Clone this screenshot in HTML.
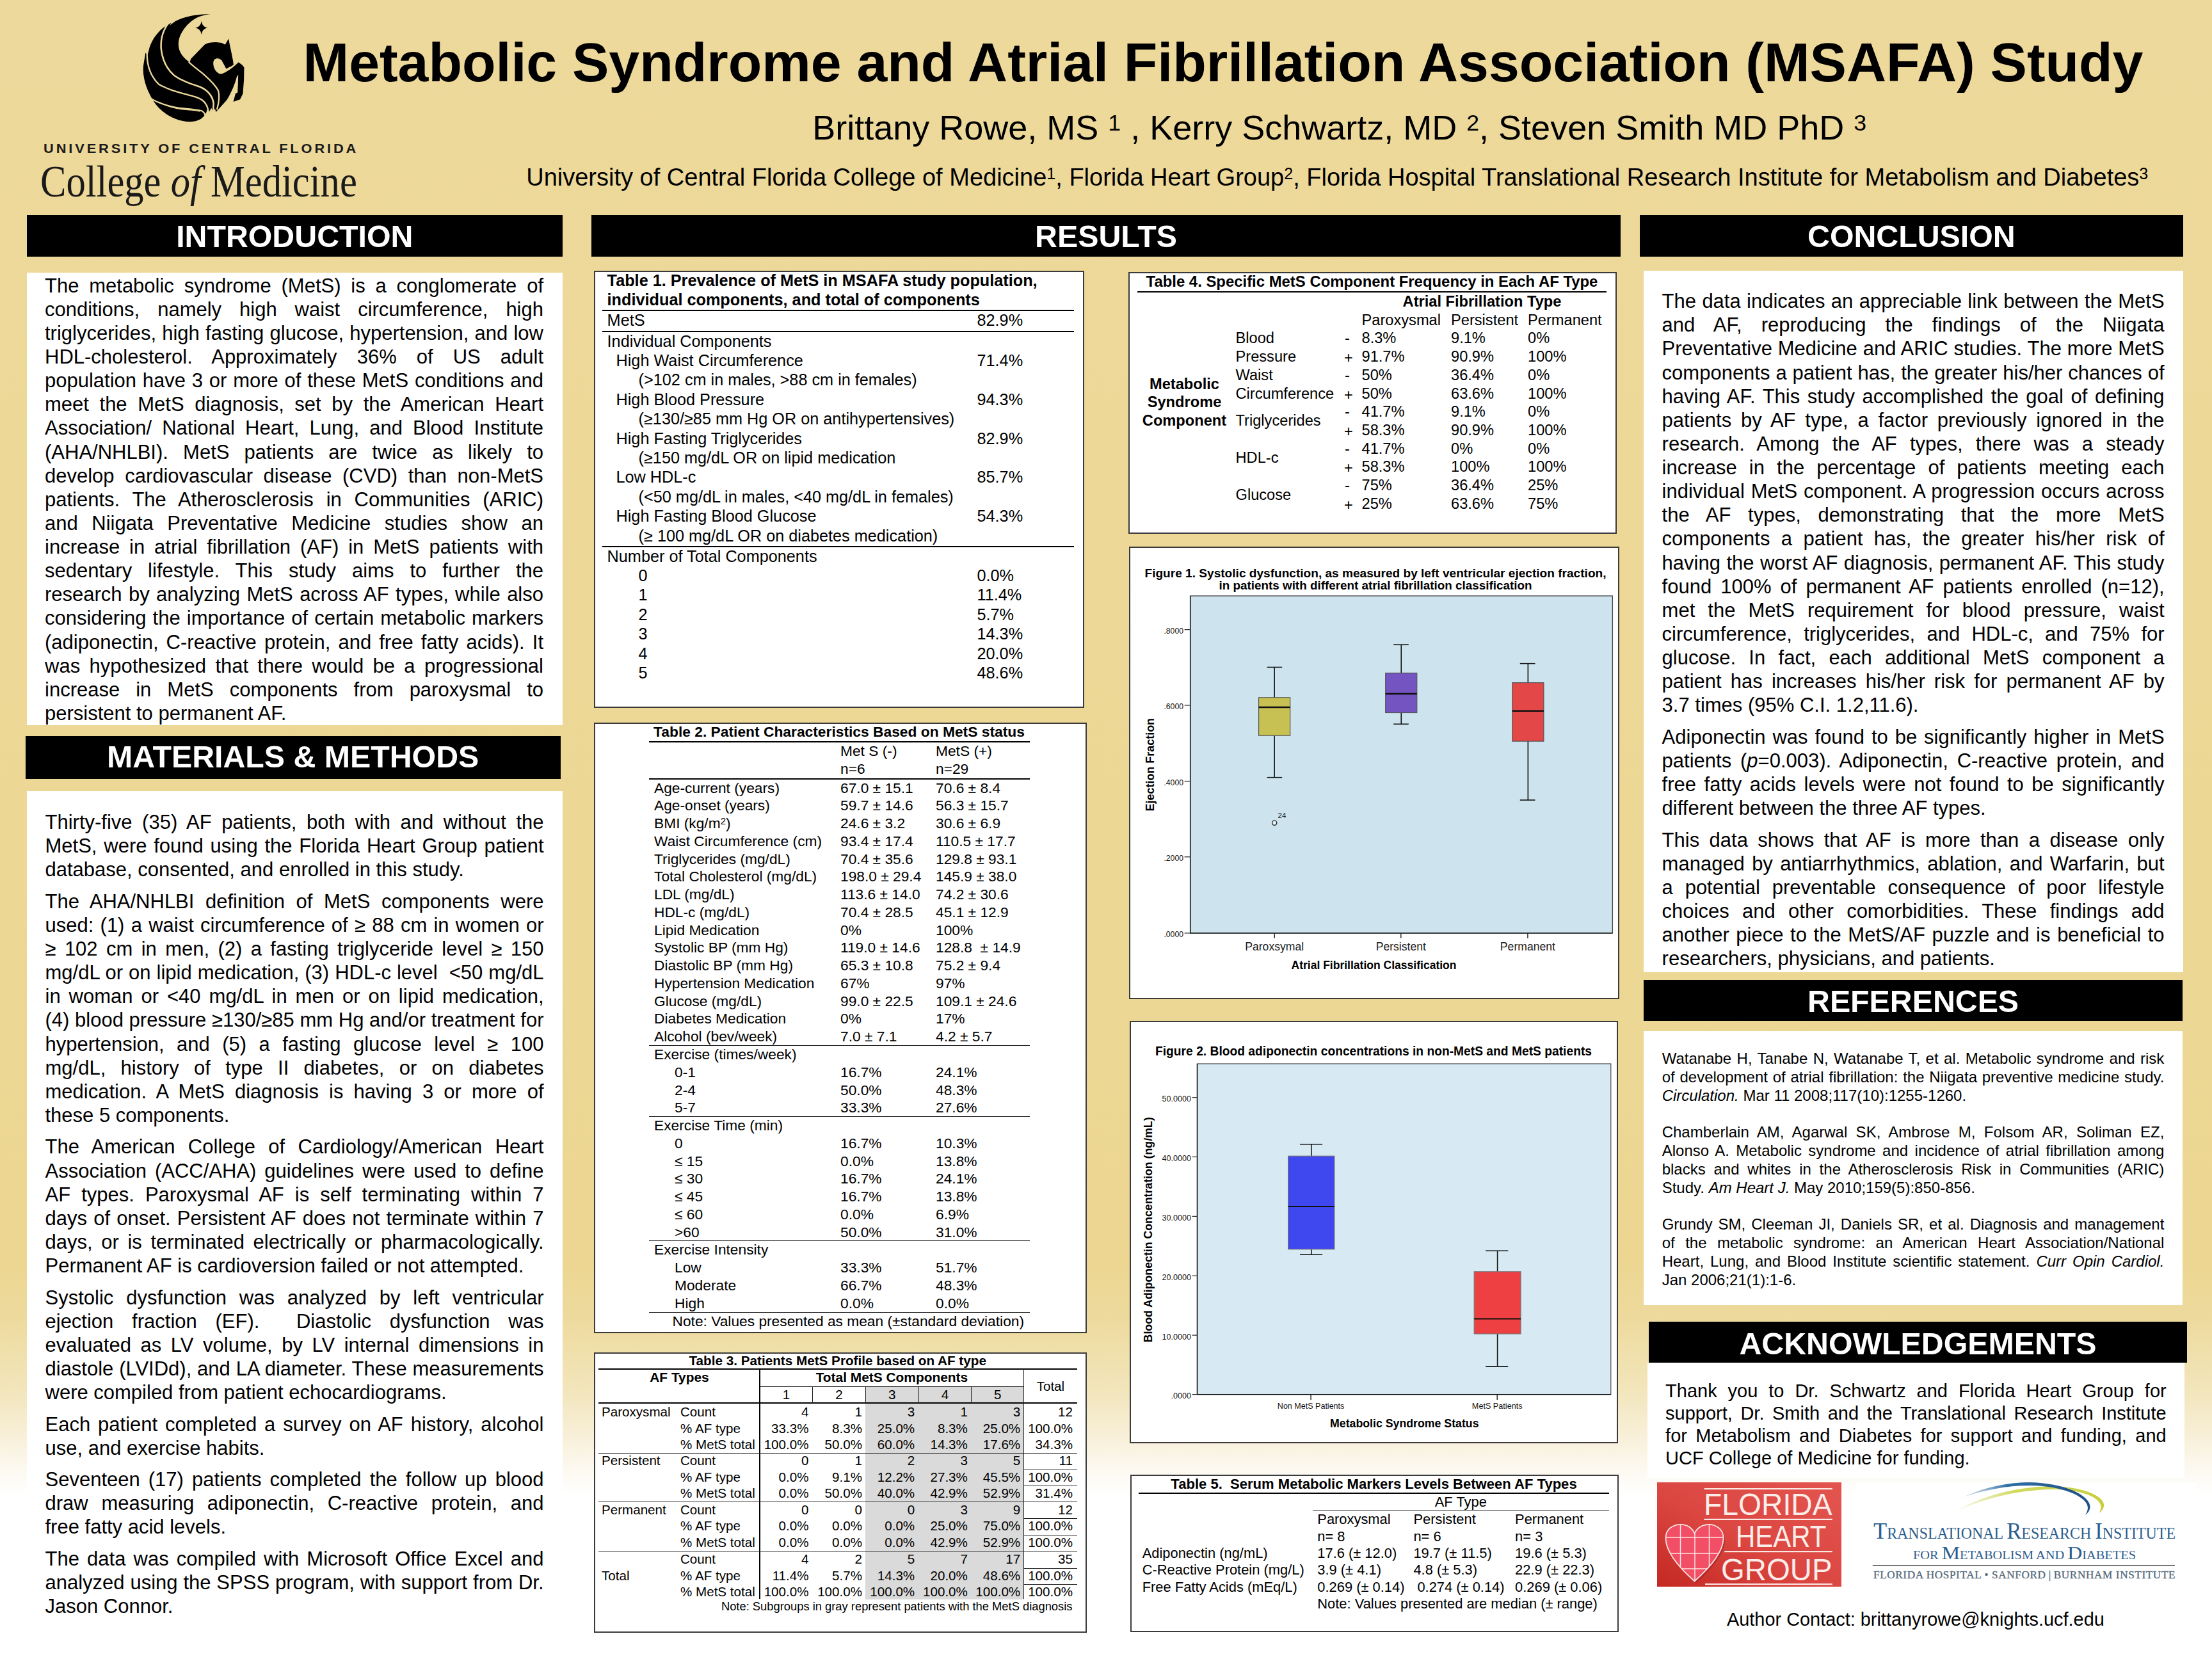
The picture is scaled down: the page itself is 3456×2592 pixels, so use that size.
<!DOCTYPE html>
<html lang="en"><head><meta charset="utf-8">
<title>Metabolic Syndrome and Atrial Fibrillation Association (MSAFA) Study</title>
<style>
html,body{margin:0;padding:0;background:#fff}
#p{position:relative;width:3456px;height:2592px;overflow:hidden;
background:linear-gradient(to bottom,#EDD99B 0%,#ECD692 76.3%,#EDDA9D 79.5%,#F2E5BA 83.6%,#F8F0DA 86.7%,#FCF8EE 88.4%,#FFFFFF 90.1%,#FFFFFF 100%);
font-family:"Liberation Sans",sans-serif;color:#000}
#p>div,#p>svg{position:absolute}
#p>div{line-height:1;white-space:nowrap}
.b{font-weight:bold}
.j{text-align:justify;text-align-last:justify}
.w{color:#fff}
.s{font-family:"Liberation Serif",serif}
sup{font-size:66%;vertical-align:baseline;position:relative;top:-0.40em;line-height:0}
i{font-style:italic}
</style></head><body><div id="p">
<div style="left:42px;top:336px;width:836.5px;height:65.4px;background:#000"></div>
<div class="b w" style="left:-139.75px;top:345px;font-size:48.3px;width:1200px;text-align:center;">INTRODUCTION</div>
<div style="left:924px;top:336px;width:1608px;height:65.4px;background:#000"></div>
<div class="b w" style="left:1128px;top:345px;font-size:48.3px;width:1200px;text-align:center;">RESULTS</div>
<div style="left:2562px;top:336px;width:848.7px;height:65.4px;background:#000"></div>
<div class="b w" style="left:2386.35px;top:345px;font-size:48.3px;width:1200px;text-align:center;">CONCLUSION</div>
<div style="left:39.5px;top:1150.2px;width:836.2px;height:66.8px;background:#000"></div>
<div class="b w" style="left:-142.4px;top:1158px;font-size:48.3px;width:1200px;text-align:center;">MATERIALS &amp; METHODS</div>
<div style="left:2567.7px;top:1530.8px;width:842.7px;height:64.6px;background:#000"></div>
<div class="b w" style="left:2389.05px;top:1540px;font-size:48.3px;width:1200px;text-align:center;">REFERENCES</div>
<div style="left:2576.4px;top:2064.8px;width:840.2px;height:64.6px;background:#000"></div>
<div class="b w" style="left:2396.5px;top:2075px;font-size:48.3px;width:1200px;text-align:center;">ACKNOWLEDGEMENTS</div>
<div style="left:42px;top:426px;width:836.5px;height:707px;background:#fff"></div>
<div style="left:42px;top:1235.5px;width:836.5px;height:1330px;background:#fff"></div>
<div style="left:2568px;top:422.5px;width:842.7px;height:1096px;background:#fff"></div>
<div style="left:2567.7px;top:1610.5px;width:842.7px;height:428.5px;background:#fff"></div>
<div style="left:2574px;top:2129.4px;width:839px;height:180.6px;background:#fff"></div>
<div style="left:927.5px;top:423px;width:766.5px;height:682.5px;background:#fff;box-sizing:border-box;border:2px solid #3a3a3a"></div>
<div style="left:927.5px;top:1128.5px;width:770.5px;height:954.5px;background:#fff;box-sizing:border-box;border:2px solid #3a3a3a"></div>
<div style="left:927.5px;top:2112.5px;width:770.5px;height:438px;background:#fff;box-sizing:border-box;border:2px solid #3a3a3a"></div>
<div style="left:1763px;top:425px;width:763px;height:409px;background:#fff;box-sizing:border-box;border:2px solid #3a3a3a"></div>
<div style="left:1763.5px;top:853.8px;width:766.3px;height:707.7px;background:#fff;box-sizing:border-box;border:2px solid #3a3a3a"></div>
<div style="left:1764.8px;top:1594.8px;width:763.7px;height:660px;background:#fff;box-sizing:border-box;border:2px solid #3a3a3a"></div>
<div style="left:1765.8px;top:2304.3px;width:762.9px;height:245.4px;background:#fff;box-sizing:border-box;border:2px solid #3a3a3a"></div>
<div class="b" style="left:473.5px;top:54px;font-size:86px;">Metabolic Syndrome and Atrial Fibrillation Association (MSAFA) Study</div>
<div style="left:1269.2px;top:172px;font-size:54px;">Brittany Rowe, MS <sup>1</sup> , Kerry Schwartz, MD <sup>2</sup>, Steven Smith MD PhD <sup>3</sup></div>
<div style="left:822.2px;top:258px;font-size:38px;">University of Central Florida College of Medicine<sup>1</sup>, Florida Heart Group<sup>2</sup>, Florida Hospital Translational Research Institute for Metabolism and Diabetes<sup>3</sup></div>
<div class="b" style="left:67.5px;top:223px;font-size:19.5px;letter-spacing:3.45px;color:#1a1a1a;transform:scaleX(1.12);transform-origin:0 0">UNIVERSITY OF CENTRAL FLORIDA</div>
<div class="s" style="left:63px;top:249px;font-size:69.5px;color:#1a1a1a;transform:scaleX(0.872);transform-origin:0 0">College <i>of</i> Medicine</div>
<svg style="left:210px;top:10px" width="190" height="190" viewBox="0 0 1659 1659">
<path fill="#000" d="M1035,108 C880,118 770,190 690,290 C620,380 590,470 605,560 C620,640 680,715 755,760
L770,715 L960,520 C1010,495 1060,488 1120,490 L1190,498 L1238,522 L1284,440 L1300,520 L1325,640 L1345,740 L1352,795 L1330,812 L1252,852
L1225,800 L1190,735 C1160,705 1120,700 1092,725 C1070,750 1072,800 1090,845 C1110,890 1150,925 1185,922 C1230,912 1290,870 1345,830
L1395,785 L1420,762 L1470,800 L1497,832 L1494,1000 L1480,1190 L1442,1268 L1350,1302 L1378,1192 L1408,1172 L1416,935
L1396,965 C1370,1060 1330,1160 1262,1275 L1150,1400 L1112,1440 L1100,1395 L1068,1432 L1050,1385 L1012,1452 L995,1400
C985,1450 960,1490 935,1510 C900,1548 840,1570 760,1574 C580,1572 400,1480 280,1320 C170,1160 100,960 125,790
L152,634 L180,660 L197,598 C215,500 290,370 400,285 L505,222 L478,262 L560,200 C700,130 880,100 1035,108 Z"/>
<g fill="none" stroke="#EDD99B" stroke-linecap="round">
<path stroke-width="20" d="M172,640 C170,800 220,950 330,1060 C480,1150 640,1180 800,1225 C900,1250 970,1290 1000,1390 L1010,1440"/>
<path stroke-width="22" d="M455,240 C390,330 355,450 365,580 C380,720 440,850 540,940 C650,1020 780,1060 900,1100 C990,1140 1060,1200 1080,1320 L1075,1420"/>
<path stroke-width="20" d="M745,760 C800,820 880,870 950,930 C1040,1010 1110,1080 1145,1150 C1165,1230 1150,1320 1128,1400"/>
<path stroke-width="18" d="M235,1262 C330,1320 460,1360 600,1385 C720,1398 840,1400 920,1425 C950,1445 960,1465 962,1480"/>
<path stroke-width="13" d="M330,1305 C420,1350 520,1385 640,1402 C740,1412 830,1414 890,1430"/>
</g>
<path fill="#EDD99B" d="M1416,935 L1402,1172 L1390,1180 L1396,965 Z"/>
<path fill="#000" d="M915,198 C925,255 945,280 1000,292 C945,304 925,330 915,385 C905,330 885,304 828,292 C885,280 905,255 915,198 Z"/>
</svg>
<div class="j" style="left:70px;top:431px;font-size:31px;width:779px;">The metabolic syndrome (MetS) is a conglomerate of</div>
<div class="j" style="left:70px;top:468px;font-size:31px;width:779px;">conditions, namely high waist circumference, high</div>
<div class="j" style="left:70px;top:505px;font-size:31px;width:779px;">triglycerides, high fasting glucose, hypertension, and low</div>
<div class="j" style="left:70px;top:542px;font-size:31px;width:779px;">HDL-cholesterol. Approximately 36% of US adult</div>
<div class="j" style="left:70px;top:579px;font-size:31px;width:779px;">population have 3 or more of these MetS conditions and</div>
<div class="j" style="left:70px;top:616px;font-size:31px;width:779px;">meet the MetS diagnosis, set by the American Heart</div>
<div class="j" style="left:70px;top:653px;font-size:31px;width:779px;">Association/ National Heart, Lung, and Blood Institute</div>
<div class="j" style="left:70px;top:691px;font-size:31px;width:779px;">(AHA/NHLBI). MetS patients are twice as likely to</div>
<div class="j" style="left:70px;top:728px;font-size:31px;width:779px;">develop cardiovascular disease (CVD) than non-MetS</div>
<div class="j" style="left:70px;top:765px;font-size:31px;width:779px;">patients. The Atherosclerosis in Communities (ARIC)</div>
<div class="j" style="left:70px;top:802px;font-size:31px;width:779px;">and Niigata Preventative Medicine studies show an</div>
<div class="j" style="left:70px;top:839px;font-size:31px;width:779px;">increase in atrial fibrillation (AF) in MetS patients with</div>
<div class="j" style="left:70px;top:876px;font-size:31px;width:779px;">sedentary lifestyle. This study aims to further the</div>
<div class="j" style="left:70px;top:913px;font-size:31px;width:779px;">research by analyzing MetS across AF types, while also</div>
<div class="j" style="left:70px;top:950px;font-size:31px;width:779px;">considering the importance of certain metabolic markers</div>
<div class="j" style="left:70px;top:988px;font-size:31px;width:779px;">(adiponectin, C-reactive protein, and free fatty acids). It</div>
<div class="j" style="left:70px;top:1025px;font-size:31px;width:779px;">was hypothesized that there would be a progressional</div>
<div class="j" style="left:70px;top:1062px;font-size:31px;width:779px;">increase in MetS components from paroxysmal to</div>
<div style="left:70px;top:1099px;font-size:31px;width:779px;">persistent to permanent AF.</div>
<div class="j" style="left:70.5px;top:1269px;font-size:31px;width:779px;">Thirty-five (35) AF patients, both with and without the</div>
<div class="j" style="left:70.5px;top:1306px;font-size:31px;width:779px;">MetS, were found using the Florida Heart Group patient</div>
<div style="left:70.5px;top:1343px;font-size:31px;width:779px;">database, consented, and enrolled in this study.</div>
<div class="j" style="left:70.5px;top:1393px;font-size:31px;width:779px;">The AHA/NHLBI definition of MetS components were</div>
<div class="j" style="left:70.5px;top:1430px;font-size:31px;width:779px;">used: (1) a waist circumference of &ge; 88 cm in women or</div>
<div class="j" style="left:70.5px;top:1467px;font-size:31px;width:779px;">&ge; 102 cm in men, (2) a fasting triglyceride level &ge; 150</div>
<div class="j" style="left:70.5px;top:1504px;font-size:31px;width:779px;">mg/dL or on lipid medication, (3) HDL-c level &nbsp;&lt;50 mg/dL</div>
<div class="j" style="left:70.5px;top:1541px;font-size:31px;width:779px;">in woman or &lt;40 mg/dL in men or on lipid medication,</div>
<div class="j" style="left:70.5px;top:1578px;font-size:31px;width:779px;">(4) blood pressure &ge;130/&ge;85 mm Hg and/or treatment for</div>
<div class="j" style="left:70.5px;top:1616px;font-size:31px;width:779px;">hypertension, and (5) a fasting glucose level &ge; 100</div>
<div class="j" style="left:70.5px;top:1653px;font-size:31px;width:779px;">mg/dL, history of type II diabetes, or on diabetes</div>
<div class="j" style="left:70.5px;top:1690px;font-size:31px;width:779px;">medication. A MetS diagnosis is having 3 or more of</div>
<div style="left:70.5px;top:1727px;font-size:31px;width:779px;">these 5 components.</div>
<div class="j" style="left:70.5px;top:1776px;font-size:31px;width:779px;">The American College of Cardiology/American Heart</div>
<div class="j" style="left:70.5px;top:1814px;font-size:31px;width:779px;">Association (ACC/AHA) guidelines were used to define</div>
<div class="j" style="left:70.5px;top:1851px;font-size:31px;width:779px;">AF types. Paroxysmal AF is self terminating within 7</div>
<div class="j" style="left:70.5px;top:1888px;font-size:31px;width:779px;">days of onset. Persistent AF does not terminate within 7</div>
<div class="j" style="left:70.5px;top:1925px;font-size:31px;width:779px;">days, or is terminated electrically or pharmacologically.</div>
<div style="left:70.5px;top:1962px;font-size:31px;width:779px;">Permanent AF is cardioversion failed or not attempted.</div>
<div class="j" style="left:70.5px;top:2012px;font-size:31px;width:779px;">Systolic dysfunction was analyzed by left ventricular</div>
<div class="j" style="left:70.5px;top:2049px;font-size:31px;width:779px;">ejection fraction (EF). &nbsp;Diastolic dysfunction was</div>
<div class="j" style="left:70.5px;top:2086px;font-size:31px;width:779px;">evaluated as LV volume, by LV internal dimensions in</div>
<div class="j" style="left:70.5px;top:2123px;font-size:31px;width:779px;">diastole (LVIDd), and LA diameter. These measurements</div>
<div style="left:70.5px;top:2160px;font-size:31px;width:779px;">were compiled from patient echocardiograms.</div>
<div class="j" style="left:70.5px;top:2210px;font-size:31px;width:779px;">Each patient completed a survey on AF history, alcohol</div>
<div style="left:70.5px;top:2247px;font-size:31px;width:779px;">use, and exercise habits.</div>
<div class="j" style="left:70.5px;top:2296px;font-size:31px;width:779px;">Seventeen (17) patients completed the follow up blood</div>
<div class="j" style="left:70.5px;top:2333px;font-size:31px;width:779px;">draw measuring adiponectin, C-reactive protein, and</div>
<div style="left:70.5px;top:2370px;font-size:31px;width:779px;">free fatty acid levels.</div>
<div class="j" style="left:70.5px;top:2420px;font-size:31px;width:779px;">The data was compiled with Microsoft Office Excel and</div>
<div class="j" style="left:70.5px;top:2457px;font-size:31px;width:779px;">analyzed using the SPSS program, with support from Dr.</div>
<div style="left:70.5px;top:2494px;font-size:31px;width:779px;">Jason Connor.</div>
<div class="j" style="left:2596.6px;top:455px;font-size:31px;width:785px;">The data indicates an appreciable link between the MetS</div>
<div class="j" style="left:2596.6px;top:492px;font-size:31px;width:785px;">and AF, reproducing the findings of the Niigata</div>
<div class="j" style="left:2596.6px;top:529px;font-size:31px;width:785px;">Preventative Medicine and ARIC studies. The more MetS</div>
<div class="j" style="left:2596.6px;top:567px;font-size:31px;width:785px;">components a patient has, the greater his/her chances of</div>
<div class="j" style="left:2596.6px;top:604px;font-size:31px;width:785px;">having AF. This study accomplished the goal of defining</div>
<div class="j" style="left:2596.6px;top:641px;font-size:31px;width:785px;">patients by AF type, a factor previously ignored in the</div>
<div class="j" style="left:2596.6px;top:678px;font-size:31px;width:785px;">research. Among the AF types, there was a steady</div>
<div class="j" style="left:2596.6px;top:715px;font-size:31px;width:785px;">increase in the percentage of patients meeting each</div>
<div class="j" style="left:2596.6px;top:752px;font-size:31px;width:785px;">individual MetS component. A progression occurs across</div>
<div class="j" style="left:2596.6px;top:789px;font-size:31px;width:785px;">the AF types, demonstrating that the more MetS</div>
<div class="j" style="left:2596.6px;top:826px;font-size:31px;width:785px;">components a patient has, the greater his/her risk of</div>
<div class="j" style="left:2596.6px;top:864px;font-size:31px;width:785px;">having the worst AF diagnosis, permanent AF. This study</div>
<div class="j" style="left:2596.6px;top:901px;font-size:31px;width:785px;">found 100% of permanent AF patients enrolled (n=12),</div>
<div class="j" style="left:2596.6px;top:938px;font-size:31px;width:785px;">met the MetS requirement for blood pressure, waist</div>
<div class="j" style="left:2596.6px;top:975px;font-size:31px;width:785px;">circumference, triglycerides, and HDL-c, and 75% for</div>
<div class="j" style="left:2596.6px;top:1012px;font-size:31px;width:785px;">glucose. In fact, each additional MetS component a</div>
<div class="j" style="left:2596.6px;top:1049px;font-size:31px;width:785px;">patient has increases his/her risk for permanent AF by</div>
<div style="left:2596.6px;top:1086px;font-size:31px;width:785px;">3.7 times (95% C.I. 1.2,11.6).</div>
<div class="j" style="left:2596.6px;top:1136px;font-size:31px;width:785px;">Adiponectin was found to be significantly higher in MetS</div>
<div class="j" style="left:2596.6px;top:1173px;font-size:31px;width:785px;">patients (<i>p</i>=0.003). Adiponectin, C-reactive protein, and</div>
<div class="j" style="left:2596.6px;top:1210px;font-size:31px;width:785px;">free fatty acids levels were not found to be significantly</div>
<div style="left:2596.6px;top:1247px;font-size:31px;width:785px;">different between the three AF types.</div>
<div class="j" style="left:2596.6px;top:1297px;font-size:31px;width:785px;">This data shows that AF is more than a disease only</div>
<div class="j" style="left:2596.6px;top:1334px;font-size:31px;width:785px;">managed by antiarrhythmics, ablation, and Warfarin, but</div>
<div class="j" style="left:2596.6px;top:1371px;font-size:31px;width:785px;">a potential preventable consequence of poor lifestyle</div>
<div class="j" style="left:2596.6px;top:1408px;font-size:31px;width:785px;">choices and other comorbidities. These findings add</div>
<div class="j" style="left:2596.6px;top:1445px;font-size:31px;width:785px;">another piece to the MetS/AF puzzle and is beneficial to</div>
<div style="left:2596.6px;top:1482px;font-size:31px;width:785px;">researchers, physicians, and patients.</div>
<div class="j" style="left:2596.7px;top:1642px;font-size:24px;width:784.7px;">Watanabe H, Tanabe N, Watanabe T, et al. Metabolic syndrome and risk</div>
<div class="j" style="left:2596.7px;top:1671px;font-size:24px;width:784.7px;">of development of atrial fibrillation: the Niigata preventive medicine study.</div>
<div style="left:2596.7px;top:1700px;font-size:24px;width:784.7px;"><i>Circulation.</i> Mar 11 2008;117(10):1255-1260.</div>
<div class="j" style="left:2596.7px;top:1757px;font-size:24px;width:784.7px;">Chamberlain AM, Agarwal SK, Ambrose M, Folsom AR, Soliman EZ,</div>
<div class="j" style="left:2596.7px;top:1786px;font-size:24px;width:784.7px;">Alonso A. Metabolic syndrome and incidence of atrial fibrillation among</div>
<div class="j" style="left:2596.7px;top:1815px;font-size:24px;width:784.7px;">blacks and whites in the Atherosclerosis Risk in Communities (ARIC)</div>
<div style="left:2596.7px;top:1844px;font-size:24px;width:784.7px;">Study. <i>Am Heart J.</i> May 2010;159(5):850-856.</div>
<div class="j" style="left:2596.7px;top:1901px;font-size:24px;width:784.7px;">Grundy SM, Cleeman JI, Daniels SR, et al. Diagnosis and management</div>
<div class="j" style="left:2596.7px;top:1930px;font-size:24px;width:784.7px;">of the metabolic syndrome: an American Heart Association/National</div>
<div class="j" style="left:2596.7px;top:1959px;font-size:24px;width:784.7px;">Heart, Lung, and Blood Institute scientific statement. <i>Curr Opin Cardiol.</i></div>
<div style="left:2596.7px;top:1988px;font-size:24px;width:784.7px;">Jan 2006;21(1):1-6.</div>
<div class="j" style="left:2602.1px;top:2159px;font-size:29px;width:782.6px;">Thank you to Dr. Schwartz and Florida Heart Group for</div>
<div class="j" style="left:2602.1px;top:2194px;font-size:29px;width:782.6px;">support, Dr. Smith and the Translational Research Institute</div>
<div class="j" style="left:2602.1px;top:2229px;font-size:29px;width:782.6px;">for Metabolism and Diabetes for support and funding, and</div>
<div style="left:2602.1px;top:2264px;font-size:29px;width:782.6px;">UCF College of Medicine for funding.</div>
<div style="left:2698px;top:2516px;font-size:28.9px;">Author Contact: brittanyrowe@knights.ucf.edu</div>
<div class="b" style="left:948.6px;top:426px;font-size:25.25px;">Table 1. Prevalence of MetS in MSAFA study population,</div>
<div class="b" style="left:948.6px;top:456px;font-size:25.25px;">individual components, and total of components</div>
<div style="left:941.2px;top:484px;width:737.1px;height:2px;background:#000"></div>
<div style="left:941.2px;top:517px;width:737.1px;height:2px;background:#000"></div>
<div style="left:941.2px;top:853px;width:737.1px;height:2px;background:#000"></div>
<div style="left:948.6px;top:488px;font-size:25.25px;">MetS</div>
<div style="left:1526.5px;top:488px;font-size:25.25px;">82.9%</div>
<div style="left:948.6px;top:521px;font-size:25.25px;">Individual Components</div>
<div style="left:962.5px;top:551px;font-size:25.25px;">High Waist Circumference</div>
<div style="left:1526.5px;top:551px;font-size:25.25px;">71.4%</div>
<div style="left:997.6px;top:581px;font-size:25.25px;">(&gt;102 cm in males, &gt;88 cm in females)</div>
<div style="left:962.5px;top:612px;font-size:25.25px;">High Blood Pressure</div>
<div style="left:1526.5px;top:612px;font-size:25.25px;">94.3%</div>
<div style="left:997.6px;top:642px;font-size:25.25px;">(&ge;130/&ge;85 mm Hg OR on antihypertensives)</div>
<div style="left:962.5px;top:673px;font-size:25.25px;">High Fasting Triglycerides</div>
<div style="left:1526.5px;top:673px;font-size:25.25px;">82.9%</div>
<div style="left:997.6px;top:703px;font-size:25.25px;">(&ge;150 mg/dL OR on lipid medication</div>
<div style="left:962.5px;top:733px;font-size:25.25px;">Low HDL-c</div>
<div style="left:1526.5px;top:733px;font-size:25.25px;">85.7%</div>
<div style="left:997.6px;top:764px;font-size:25.25px;">(&lt;50 mg/dL in males, &lt;40 mg/dL in females)</div>
<div style="left:962.5px;top:794px;font-size:25.25px;">High Fasting Blood Glucose</div>
<div style="left:1526.5px;top:794px;font-size:25.25px;">54.3%</div>
<div style="left:997.6px;top:825px;font-size:25.25px;">(&ge; 100 mg/dL OR on diabetes medication)</div>
<div style="left:948.6px;top:857px;font-size:25.25px;">Number of Total Components</div>
<div style="left:997.6px;top:887px;font-size:25.25px;">0</div>
<div style="left:1526.5px;top:887px;font-size:25.25px;">0.0%</div>
<div style="left:997.6px;top:917px;font-size:25.25px;">1</div>
<div style="left:1526.5px;top:917px;font-size:25.25px;">11.4%</div>
<div style="left:997.6px;top:948px;font-size:25.25px;">2</div>
<div style="left:1526.5px;top:948px;font-size:25.25px;">5.7%</div>
<div style="left:997.6px;top:978px;font-size:25.25px;">3</div>
<div style="left:1526.5px;top:978px;font-size:25.25px;">14.3%</div>
<div style="left:997.6px;top:1009px;font-size:25.25px;">4</div>
<div style="left:1526.5px;top:1009px;font-size:25.25px;">20.0%</div>
<div style="left:997.6px;top:1039px;font-size:25.25px;">5</div>
<div style="left:1526.5px;top:1039px;font-size:25.25px;">48.6%</div>
<div class="b" style="left:711px;top:1132px;font-size:22.8px;width:1200px;text-align:center;">Table 2. Patient Characteristics Based on MetS status</div>
<div style="left:1014.2px;top:1158px;width:594.9px;height:2px;background:#000"></div>
<div style="left:1014.2px;top:1216px;width:594.9px;height:2px;background:#000"></div>
<div style="left:1313px;top:1162px;font-size:22.75px;">Met S (-)</div>
<div style="left:1462px;top:1162px;font-size:22.75px;">MetS (+)</div>
<div style="left:1313px;top:1190px;font-size:22.75px;">n=6</div>
<div style="left:1462px;top:1190px;font-size:22.75px;">n=29</div>
<div style="left:1022px;top:1220px;font-size:22.75px;">Age-current (years)</div>
<div style="left:1313px;top:1220px;font-size:22.75px;">67.0 &plusmn; 15.1</div>
<div style="left:1462px;top:1220px;font-size:22.75px;">70.6 &plusmn; 8.4</div>
<div style="left:1022px;top:1247px;font-size:22.75px;">Age-onset (years)</div>
<div style="left:1313px;top:1247px;font-size:22.75px;">59.7 &plusmn; 14.6</div>
<div style="left:1462px;top:1247px;font-size:22.75px;">56.3 &plusmn; 15.7</div>
<div style="left:1022px;top:1275px;font-size:22.75px;">BMI (kg/m<sup>2</sup>)</div>
<div style="left:1313px;top:1275px;font-size:22.75px;">24.6 &plusmn; 3.2</div>
<div style="left:1462px;top:1275px;font-size:22.75px;">30.6 &plusmn; 6.9</div>
<div style="left:1022px;top:1303px;font-size:22.75px;">Waist Circumference (cm)</div>
<div style="left:1313px;top:1303px;font-size:22.75px;">93.4 &plusmn; 17.4</div>
<div style="left:1462px;top:1303px;font-size:22.75px;">110.5 &plusmn; 17.7</div>
<div style="left:1022px;top:1331px;font-size:22.75px;">Triglycerides (mg/dL)</div>
<div style="left:1313px;top:1331px;font-size:22.75px;">70.4 &plusmn; 35.6</div>
<div style="left:1462px;top:1331px;font-size:22.75px;">129.8 &plusmn; 93.1</div>
<div style="left:1022px;top:1358px;font-size:22.75px;">Total Cholesterol (mg/dL)</div>
<div style="left:1313px;top:1358px;font-size:22.75px;">198.0 &plusmn; 29.4</div>
<div style="left:1462px;top:1358px;font-size:22.75px;">145.9 &plusmn; 38.0</div>
<div style="left:1022px;top:1386px;font-size:22.75px;">LDL (mg/dL)</div>
<div style="left:1313px;top:1386px;font-size:22.75px;">113.6 &plusmn; 14.0</div>
<div style="left:1462px;top:1386px;font-size:22.75px;">74.2 &plusmn; 30.6</div>
<div style="left:1022px;top:1414px;font-size:22.75px;">HDL-c (mg/dL)</div>
<div style="left:1313px;top:1414px;font-size:22.75px;">70.4 &plusmn; 28.5</div>
<div style="left:1462px;top:1414px;font-size:22.75px;">45.1 &plusmn; 12.9</div>
<div style="left:1022px;top:1442px;font-size:22.75px;">Lipid Medication</div>
<div style="left:1313px;top:1442px;font-size:22.75px;">0%</div>
<div style="left:1462px;top:1442px;font-size:22.75px;">100%</div>
<div style="left:1022px;top:1469px;font-size:22.75px;">Systolic BP (mm Hg)</div>
<div style="left:1313px;top:1469px;font-size:22.75px;">119.0 &plusmn; 14.6</div>
<div style="left:1462px;top:1469px;font-size:22.75px;">128.8 &nbsp;&plusmn; 14.9</div>
<div style="left:1022px;top:1497px;font-size:22.75px;">Diastolic BP (mm Hg)</div>
<div style="left:1313px;top:1497px;font-size:22.75px;">65.3 &plusmn; 10.8</div>
<div style="left:1462px;top:1497px;font-size:22.75px;">75.2 &plusmn; 9.4</div>
<div style="left:1022px;top:1525px;font-size:22.75px;">Hypertension Medication</div>
<div style="left:1313px;top:1525px;font-size:22.75px;">67%</div>
<div style="left:1462px;top:1525px;font-size:22.75px;">97%</div>
<div style="left:1022px;top:1553px;font-size:22.75px;">Glucose (mg/dL)</div>
<div style="left:1313px;top:1553px;font-size:22.75px;">99.0 &plusmn; 22.5</div>
<div style="left:1462px;top:1553px;font-size:22.75px;">109.1 &plusmn; 24.6</div>
<div style="left:1022px;top:1580px;font-size:22.75px;">Diabetes Medication</div>
<div style="left:1313px;top:1580px;font-size:22.75px;">0%</div>
<div style="left:1462px;top:1580px;font-size:22.75px;">17%</div>
<div style="left:1022px;top:1608px;font-size:22.75px;">Alcohol (bev/week)</div>
<div style="left:1313px;top:1608px;font-size:22.75px;">7.0 &plusmn; 7.1</div>
<div style="left:1462px;top:1608px;font-size:22.75px;">4.2 &plusmn; 5.7</div>
<div style="left:1014.2px;top:1633px;width:594.9px;height:1px;background:#222"></div>
<div style="left:1022px;top:1636px;font-size:22.75px;">Exercise (times/week)</div>
<div style="left:1054px;top:1664px;font-size:22.75px;">0-1</div>
<div style="left:1313px;top:1664px;font-size:22.75px;">16.7%</div>
<div style="left:1462px;top:1664px;font-size:22.75px;">24.1%</div>
<div style="left:1054px;top:1692px;font-size:22.75px;">2-4</div>
<div style="left:1313px;top:1692px;font-size:22.75px;">50.0%</div>
<div style="left:1462px;top:1692px;font-size:22.75px;">48.3%</div>
<div style="left:1054px;top:1719px;font-size:22.75px;">5-7</div>
<div style="left:1313px;top:1719px;font-size:22.75px;">33.3%</div>
<div style="left:1462px;top:1719px;font-size:22.75px;">27.6%</div>
<div style="left:1014.2px;top:1744px;width:594.9px;height:1px;background:#222"></div>
<div style="left:1022px;top:1747px;font-size:22.75px;">Exercise Time (min)</div>
<div style="left:1054px;top:1775px;font-size:22.75px;">0</div>
<div style="left:1313px;top:1775px;font-size:22.75px;">16.7%</div>
<div style="left:1462px;top:1775px;font-size:22.75px;">10.3%</div>
<div style="left:1054px;top:1803px;font-size:22.75px;">&le; 15</div>
<div style="left:1313px;top:1803px;font-size:22.75px;">0.0%</div>
<div style="left:1462px;top:1803px;font-size:22.75px;">13.8%</div>
<div style="left:1054px;top:1830px;font-size:22.75px;">&le; 30</div>
<div style="left:1313px;top:1830px;font-size:22.75px;">16.7%</div>
<div style="left:1462px;top:1830px;font-size:22.75px;">24.1%</div>
<div style="left:1054px;top:1858px;font-size:22.75px;">&le; 45</div>
<div style="left:1313px;top:1858px;font-size:22.75px;">16.7%</div>
<div style="left:1462px;top:1858px;font-size:22.75px;">13.8%</div>
<div style="left:1054px;top:1886px;font-size:22.75px;">&le; 60</div>
<div style="left:1313px;top:1886px;font-size:22.75px;">0.0%</div>
<div style="left:1462px;top:1886px;font-size:22.75px;">6.9%</div>
<div style="left:1054px;top:1914px;font-size:22.75px;">&gt;60</div>
<div style="left:1313px;top:1914px;font-size:22.75px;">50.0%</div>
<div style="left:1462px;top:1914px;font-size:22.75px;">31.0%</div>
<div style="left:1014.2px;top:1938px;width:594.9px;height:1px;background:#222"></div>
<div style="left:1022px;top:1941px;font-size:22.75px;">Exercise Intensity</div>
<div style="left:1054px;top:1969px;font-size:22.75px;">Low</div>
<div style="left:1313px;top:1969px;font-size:22.75px;">33.3%</div>
<div style="left:1462px;top:1969px;font-size:22.75px;">51.7%</div>
<div style="left:1054px;top:1997px;font-size:22.75px;">Moderate</div>
<div style="left:1313px;top:1997px;font-size:22.75px;">66.7%</div>
<div style="left:1462px;top:1997px;font-size:22.75px;">48.3%</div>
<div style="left:1054px;top:2025px;font-size:22.75px;">High</div>
<div style="left:1313px;top:2025px;font-size:22.75px;">0.0%</div>
<div style="left:1462px;top:2025px;font-size:22.75px;">0.0%</div>
<div style="left:1014.2px;top:2050px;width:594.9px;height:1px;background:#222"></div>
<div style="left:1050.5px;top:2053px;font-size:22.75px;">Note: Values presented as mean (&plusmn;standard deviation)</div>
<div style="left:1352.3px;top:2166px;width:247.6px;height:333px;background:#DADADA"></div>
<div class="b" style="left:708.7px;top:2116px;font-size:20.7px;width:1200px;text-align:center;">Table 3. Patients MetS Profile based on AF type</div>
<div style="left:934.5px;top:2138px;width:748.4px;height:2px;background:#000"></div>
<div style="left:934.5px;top:2191px;width:748.4px;height:2px;background:#000"></div>
<div style="left:1186px;top:2139.3px;width:2px;height:358.7px;background:#000"></div>
<div style="left:1599px;top:2139.3px;width:1px;height:358.7px;background:#222"></div>
<div style="left:1187.3px;top:2166px;width:412.6px;height:1px;background:#222"></div>
<div style="left:1269px;top:2166px;width:1px;height:26.3px;background:#222"></div>
<div style="left:1352px;top:2166px;width:1px;height:26.3px;background:#222"></div>
<div style="left:1435px;top:2166px;width:1px;height:26.3px;background:#222"></div>
<div style="left:1517px;top:2166px;width:1px;height:26.3px;background:#222"></div>
<div class="b" style="left:461.5px;top:2142px;font-size:20.9px;width:1200px;text-align:center;">AF Types</div>
<div class="b" style="left:793.4px;top:2142px;font-size:20.9px;width:1200px;text-align:center;">Total MetS Components</div>
<div style="left:1041.4px;top:2156px;font-size:20.6px;width:1200px;text-align:center;">Total</div>
<div style="left:628.4px;top:2169px;font-size:20.6px;width:1200px;text-align:center;">1</div>
<div style="left:711px;top:2169px;font-size:20.6px;width:1200px;text-align:center;">2</div>
<div style="left:793.8px;top:2169px;font-size:20.6px;width:1200px;text-align:center;">3</div>
<div style="left:876.4px;top:2169px;font-size:20.6px;width:1200px;text-align:center;">4</div>
<div style="left:958.7px;top:2169px;font-size:20.6px;width:1200px;text-align:center;">5</div>
<div style="left:940px;top:2196px;font-size:20.6px;">Paroxysmal</div>
<div style="left:1063px;top:2196px;font-size:20.6px;">Count</div>
<div style="left:363.5px;top:2196px;font-size:20.6px;width:900px;text-align:right;">4</div>
<div style="left:447px;top:2196px;font-size:20.6px;width:900px;text-align:right;">1</div>
<div style="left:529.2px;top:2196px;font-size:20.6px;width:900px;text-align:right;">3</div>
<div style="left:611.9px;top:2196px;font-size:20.6px;width:900px;text-align:right;">1</div>
<div style="left:694.2px;top:2196px;font-size:20.6px;width:900px;text-align:right;">3</div>
<div style="left:776px;top:2196px;font-size:20.6px;width:900px;text-align:right;">12</div>
<div style="left:1063px;top:2222px;font-size:20.6px;">% AF type</div>
<div style="left:363.5px;top:2222px;font-size:20.6px;width:900px;text-align:right;">33.3%</div>
<div style="left:447px;top:2222px;font-size:20.6px;width:900px;text-align:right;">8.3%</div>
<div style="left:529.2px;top:2222px;font-size:20.6px;width:900px;text-align:right;">25.0%</div>
<div style="left:611.9px;top:2222px;font-size:20.6px;width:900px;text-align:right;">8.3%</div>
<div style="left:694.2px;top:2222px;font-size:20.6px;width:900px;text-align:right;">25.0%</div>
<div style="left:776px;top:2222px;font-size:20.6px;width:900px;text-align:right;">100.0%</div>
<div style="left:1063px;top:2247px;font-size:20.6px;">% MetS total</div>
<div style="left:363.5px;top:2247px;font-size:20.6px;width:900px;text-align:right;">100.0%</div>
<div style="left:447px;top:2247px;font-size:20.6px;width:900px;text-align:right;">50.0%</div>
<div style="left:529.2px;top:2247px;font-size:20.6px;width:900px;text-align:right;">60.0%</div>
<div style="left:611.9px;top:2247px;font-size:20.6px;width:900px;text-align:right;">14.3%</div>
<div style="left:694.2px;top:2247px;font-size:20.6px;width:900px;text-align:right;">17.6%</div>
<div style="left:776px;top:2247px;font-size:20.6px;width:900px;text-align:right;">34.3%</div>
<div style="left:934.5px;top:2270px;width:748.4px;height:1px;background:#222"></div>
<div style="left:940px;top:2272px;font-size:20.6px;">Persistent</div>
<div style="left:1063px;top:2272px;font-size:20.6px;">Count</div>
<div style="left:363.5px;top:2272px;font-size:20.6px;width:900px;text-align:right;">0</div>
<div style="left:447px;top:2272px;font-size:20.6px;width:900px;text-align:right;">1</div>
<div style="left:529.2px;top:2272px;font-size:20.6px;width:900px;text-align:right;">2</div>
<div style="left:611.9px;top:2272px;font-size:20.6px;width:900px;text-align:right;">3</div>
<div style="left:694.2px;top:2272px;font-size:20.6px;width:900px;text-align:right;">5</div>
<div style="left:776px;top:2272px;font-size:20.6px;width:900px;text-align:right;">11</div>
<div style="left:1599.9px;top:2296px;width:83px;height:1px;background:#222"></div>
<div style="left:1063px;top:2298px;font-size:20.6px;">% AF type</div>
<div style="left:363.5px;top:2298px;font-size:20.6px;width:900px;text-align:right;">0.0%</div>
<div style="left:447px;top:2298px;font-size:20.6px;width:900px;text-align:right;">9.1%</div>
<div style="left:529.2px;top:2298px;font-size:20.6px;width:900px;text-align:right;">12.2%</div>
<div style="left:611.9px;top:2298px;font-size:20.6px;width:900px;text-align:right;">27.3%</div>
<div style="left:694.2px;top:2298px;font-size:20.6px;width:900px;text-align:right;">45.5%</div>
<div style="left:776px;top:2298px;font-size:20.6px;width:900px;text-align:right;">100.0%</div>
<div style="left:1599.9px;top:2321px;width:83px;height:1px;background:#222"></div>
<div style="left:1063px;top:2323px;font-size:20.6px;">% MetS total</div>
<div style="left:363.5px;top:2323px;font-size:20.6px;width:900px;text-align:right;">0.0%</div>
<div style="left:447px;top:2323px;font-size:20.6px;width:900px;text-align:right;">50.0%</div>
<div style="left:529.2px;top:2323px;font-size:20.6px;width:900px;text-align:right;">40.0%</div>
<div style="left:611.9px;top:2323px;font-size:20.6px;width:900px;text-align:right;">42.9%</div>
<div style="left:694.2px;top:2323px;font-size:20.6px;width:900px;text-align:right;">52.9%</div>
<div style="left:776px;top:2323px;font-size:20.6px;width:900px;text-align:right;">31.4%</div>
<div style="left:934.5px;top:2346px;width:748.4px;height:1px;background:#222"></div>
<div style="left:940px;top:2349px;font-size:20.6px;">Permanent</div>
<div style="left:1063px;top:2349px;font-size:20.6px;">Count</div>
<div style="left:363.5px;top:2349px;font-size:20.6px;width:900px;text-align:right;">0</div>
<div style="left:447px;top:2349px;font-size:20.6px;width:900px;text-align:right;">0</div>
<div style="left:529.2px;top:2349px;font-size:20.6px;width:900px;text-align:right;">0</div>
<div style="left:611.9px;top:2349px;font-size:20.6px;width:900px;text-align:right;">3</div>
<div style="left:694.2px;top:2349px;font-size:20.6px;width:900px;text-align:right;">9</div>
<div style="left:776px;top:2349px;font-size:20.6px;width:900px;text-align:right;">12</div>
<div style="left:1599.9px;top:2372px;width:83px;height:1px;background:#222"></div>
<div style="left:1063px;top:2374px;font-size:20.6px;">% AF type</div>
<div style="left:363.5px;top:2374px;font-size:20.6px;width:900px;text-align:right;">0.0%</div>
<div style="left:447px;top:2374px;font-size:20.6px;width:900px;text-align:right;">0.0%</div>
<div style="left:529.2px;top:2374px;font-size:20.6px;width:900px;text-align:right;">0.0%</div>
<div style="left:611.9px;top:2374px;font-size:20.6px;width:900px;text-align:right;">25.0%</div>
<div style="left:694.2px;top:2374px;font-size:20.6px;width:900px;text-align:right;">75.0%</div>
<div style="left:776px;top:2374px;font-size:20.6px;width:900px;text-align:right;">100.0%</div>
<div style="left:1599.9px;top:2398px;width:83px;height:1px;background:#222"></div>
<div style="left:1063px;top:2400px;font-size:20.6px;">% MetS total</div>
<div style="left:363.5px;top:2400px;font-size:20.6px;width:900px;text-align:right;">0.0%</div>
<div style="left:447px;top:2400px;font-size:20.6px;width:900px;text-align:right;">0.0%</div>
<div style="left:529.2px;top:2400px;font-size:20.6px;width:900px;text-align:right;">0.0%</div>
<div style="left:611.9px;top:2400px;font-size:20.6px;width:900px;text-align:right;">42.9%</div>
<div style="left:694.2px;top:2400px;font-size:20.6px;width:900px;text-align:right;">52.9%</div>
<div style="left:776px;top:2400px;font-size:20.6px;width:900px;text-align:right;">100.0%</div>
<div style="left:934.5px;top:2423px;width:748.4px;height:1px;background:#222"></div>
<div style="left:940px;top:2452px;font-size:20.6px;">Total</div>
<div style="left:1063px;top:2426px;font-size:20.6px;">Count</div>
<div style="left:363.5px;top:2426px;font-size:20.6px;width:900px;text-align:right;">4</div>
<div style="left:447px;top:2426px;font-size:20.6px;width:900px;text-align:right;">2</div>
<div style="left:529.2px;top:2426px;font-size:20.6px;width:900px;text-align:right;">5</div>
<div style="left:611.9px;top:2426px;font-size:20.6px;width:900px;text-align:right;">7</div>
<div style="left:694.2px;top:2426px;font-size:20.6px;width:900px;text-align:right;">17</div>
<div style="left:776px;top:2426px;font-size:20.6px;width:900px;text-align:right;">35</div>
<div style="left:1599.9px;top:2450px;width:83px;height:1px;background:#222"></div>
<div style="left:1063px;top:2452px;font-size:20.6px;">% AF type</div>
<div style="left:363.5px;top:2452px;font-size:20.6px;width:900px;text-align:right;">11.4%</div>
<div style="left:447px;top:2452px;font-size:20.6px;width:900px;text-align:right;">5.7%</div>
<div style="left:529.2px;top:2452px;font-size:20.6px;width:900px;text-align:right;">14.3%</div>
<div style="left:611.9px;top:2452px;font-size:20.6px;width:900px;text-align:right;">20.0%</div>
<div style="left:694.2px;top:2452px;font-size:20.6px;width:900px;text-align:right;">48.6%</div>
<div style="left:776px;top:2452px;font-size:20.6px;width:900px;text-align:right;">100.0%</div>
<div style="left:1599.9px;top:2475px;width:83px;height:1px;background:#222"></div>
<div style="left:1063px;top:2477px;font-size:20.6px;">% MetS total</div>
<div style="left:363.5px;top:2477px;font-size:20.6px;width:900px;text-align:right;">100.0%</div>
<div style="left:447px;top:2477px;font-size:20.6px;width:900px;text-align:right;">100.0%</div>
<div style="left:529.2px;top:2477px;font-size:20.6px;width:900px;text-align:right;">100.0%</div>
<div style="left:611.9px;top:2477px;font-size:20.6px;width:900px;text-align:right;">100.0%</div>
<div style="left:694.2px;top:2477px;font-size:20.6px;width:900px;text-align:right;">100.0%</div>
<div style="left:776px;top:2477px;font-size:20.6px;width:900px;text-align:right;">100.0%</div>
<div style="left:775.5px;top:2501px;font-size:18.35px;width:900px;text-align:right;">Note: Subgroups in gray represent patients with the MetS diagnosis</div>
<div class="b" style="left:1543.5px;top:428px;font-size:23.9px;width:1200px;text-align:center;">Table 4. Specific MetS Component Frequency in Each AF Type</div>
<div style="left:1777px;top:455px;width:733.3px;height:2px;background:#000"></div>
<div class="b" style="left:1715.5px;top:460px;font-size:23.65px;width:1200px;text-align:center;">Atrial Fibrillation Type</div>
<div style="left:2127.5px;top:489px;font-size:23.65px;">Paroxysmal</div>
<div style="left:2267px;top:489px;font-size:23.65px;">Persistent</div>
<div style="left:2387px;top:489px;font-size:23.65px;">Permanent</div>
<div style="left:2101px;top:517px;font-size:23.65px;">-</div>
<div style="left:2127.5px;top:517px;font-size:23.65px;">8.3%</div>
<div style="left:2267px;top:517px;font-size:23.65px;">9.1%</div>
<div style="left:2387px;top:517px;font-size:23.65px;">0%</div>
<div style="left:2100px;top:548px;font-size:23.65px;">+</div>
<div style="left:2127.5px;top:546px;font-size:23.65px;">91.7%</div>
<div style="left:2267px;top:546px;font-size:23.65px;">90.9%</div>
<div style="left:2387px;top:546px;font-size:23.65px;">100%</div>
<div style="left:2101px;top:575px;font-size:23.65px;">-</div>
<div style="left:2127.5px;top:575px;font-size:23.65px;">50%</div>
<div style="left:2267px;top:575px;font-size:23.65px;">36.4%</div>
<div style="left:2387px;top:575px;font-size:23.65px;">0%</div>
<div style="left:2100px;top:606px;font-size:23.65px;">+</div>
<div style="left:2127.5px;top:604px;font-size:23.65px;">50%</div>
<div style="left:2267px;top:604px;font-size:23.65px;">63.6%</div>
<div style="left:2387px;top:604px;font-size:23.65px;">100%</div>
<div style="left:2101px;top:632px;font-size:23.65px;">-</div>
<div style="left:2127.5px;top:632px;font-size:23.65px;">41.7%</div>
<div style="left:2267px;top:632px;font-size:23.65px;">9.1%</div>
<div style="left:2387px;top:632px;font-size:23.65px;">0%</div>
<div style="left:2100px;top:663px;font-size:23.65px;">+</div>
<div style="left:2127.5px;top:661px;font-size:23.65px;">58.3%</div>
<div style="left:2267px;top:661px;font-size:23.65px;">90.9%</div>
<div style="left:2387px;top:661px;font-size:23.65px;">100%</div>
<div style="left:2101px;top:690px;font-size:23.65px;">-</div>
<div style="left:2127.5px;top:690px;font-size:23.65px;">41.7%</div>
<div style="left:2267px;top:690px;font-size:23.65px;">0%</div>
<div style="left:2387px;top:690px;font-size:23.65px;">0%</div>
<div style="left:2100px;top:720px;font-size:23.65px;">+</div>
<div style="left:2127.5px;top:718px;font-size:23.65px;">58.3%</div>
<div style="left:2267px;top:718px;font-size:23.65px;">100%</div>
<div style="left:2387px;top:718px;font-size:23.65px;">100%</div>
<div style="left:2101px;top:747px;font-size:23.65px;">-</div>
<div style="left:2127.5px;top:747px;font-size:23.65px;">75%</div>
<div style="left:2267px;top:747px;font-size:23.65px;">36.4%</div>
<div style="left:2387px;top:747px;font-size:23.65px;">25%</div>
<div style="left:2100px;top:778px;font-size:23.65px;">+</div>
<div style="left:2127.5px;top:776px;font-size:23.65px;">25%</div>
<div style="left:2267px;top:776px;font-size:23.65px;">63.6%</div>
<div style="left:2387px;top:776px;font-size:23.65px;">75%</div>
<div style="left:1930.5px;top:517px;font-size:23.65px;">Blood</div>
<div style="left:1930.5px;top:546px;font-size:23.65px;">Pressure</div>
<div style="left:1930.5px;top:575px;font-size:23.65px;">Waist</div>
<div style="left:1930.5px;top:604px;font-size:23.65px;">Circumference</div>
<div style="left:1930.5px;top:646px;font-size:23.65px;">Triglycerides</div>
<div style="left:1930.5px;top:704px;font-size:23.65px;">HDL-c</div>
<div style="left:1930.5px;top:762px;font-size:23.65px;">Glucose</div>
<div class="b" style="left:1250.5px;top:589px;font-size:23.65px;width:1200px;text-align:center;">Metabolic</div>
<div class="b" style="left:1250.5px;top:617px;font-size:23.65px;width:1200px;text-align:center;">Syndrome</div>
<div class="b" style="left:1250.5px;top:646px;font-size:23.65px;width:1200px;text-align:center;">Component</div>
<div class="b" style="left:1546.5px;top:2308px;font-size:22.05px;width:1200px;text-align:center;">Table 5. &nbsp;Serum Metabolic Markers Levels Between AF Types</div>
<div style="left:1778.9px;top:2332px;width:735.1px;height:2px;background:#000"></div>
<div style="left:1682.3px;top:2336px;font-size:21.9px;width:1200px;text-align:center;">AF Type</div>
<div style="left:2051.4px;top:2360px;width:462.6px;height:1px;background:#222"></div>
<div style="left:2058.3px;top:2363px;font-size:21.9px;">Paroxysmal</div>
<div style="left:2208.4px;top:2363px;font-size:21.9px;">Persistent</div>
<div style="left:2367.1px;top:2363px;font-size:21.9px;">Permanent</div>
<div style="left:2058.3px;top:2390px;font-size:21.9px;">n= 8</div>
<div style="left:2208.4px;top:2390px;font-size:21.9px;">n= 6</div>
<div style="left:2367.1px;top:2390px;font-size:21.9px;">n= 3</div>
<div style="left:1784.7px;top:2416px;font-size:21.9px;">Adiponectin (ng/mL)</div>
<div style="left:2058.3px;top:2416px;font-size:21.9px;">17.6 (&plusmn; 12.0)</div>
<div style="left:2208.4px;top:2416px;font-size:21.9px;">19.7 (&plusmn; 11.5)</div>
<div style="left:2367.1px;top:2416px;font-size:21.9px;">19.6 (&plusmn; 5.3)</div>
<div style="left:1784.7px;top:2442px;font-size:21.9px;">C-Reactive Protein (mg/L)</div>
<div style="left:2058.3px;top:2442px;font-size:21.9px;">3.9 (&plusmn; 4.1)</div>
<div style="left:2208.4px;top:2442px;font-size:21.9px;">4.8 (&plusmn; 5.3)</div>
<div style="left:2367.1px;top:2442px;font-size:21.9px;">22.9 (&plusmn; 22.3)</div>
<div style="left:1784.7px;top:2469px;font-size:21.9px;">Free Fatty Acids (mEq/L)</div>
<div style="left:2058.3px;top:2469px;font-size:21.9px;">0.269 (&plusmn; 0.14)</div>
<div style="left:2214.4px;top:2469px;font-size:21.9px;">0.274 (&plusmn; 0.14)</div>
<div style="left:2367.1px;top:2469px;font-size:21.9px;">0.269 (&plusmn; 0.06)</div>
<div style="left:2058.3px;top:2495px;font-size:21.9px;">Note: Values presented are median (&plusmn; range)</div>
<svg style="left:1766px;top:856px" width="762" height="704" viewBox="1766 856 762 704" font-family="Liberation Sans, sans-serif">
<text x="2149" y="901.6" text-anchor="middle" font-weight="bold" font-size="18.9" textLength="721" lengthAdjust="spacingAndGlyphs">Figure 1. Systolic dysfunction, as measured by left ventricular ejection fraction,</text>
<text x="2149" y="921.2" text-anchor="middle" font-weight="bold" font-size="18.9" textLength="489" lengthAdjust="spacingAndGlyphs">in patients with different atrial fibrillation classification</text>
<rect x="1859.6" y="931" width="659.8" height="526.9" fill="#CDE4EE" stroke="#444" stroke-width="1.3"/>
<path d="M1859.6,931 V1457.9 H2519.4" fill="none" stroke="#000" stroke-width="1.3"/>
<line x1="1850.6" y1="983.7" x2="1859.6" y2="983.7" stroke="#222" stroke-width="1.2"/>
<text x="1849" y="990.1" text-anchor="end" font-size="13.6" fill="#111" textLength="30.6" lengthAdjust="spacingAndGlyphs">.8000</text>
<line x1="1850.6" y1="1101.9" x2="1859.6" y2="1101.9" stroke="#222" stroke-width="1.2"/>
<text x="1849" y="1108.3" text-anchor="end" font-size="13.6" fill="#111" textLength="30.6" lengthAdjust="spacingAndGlyphs">.6000</text>
<line x1="1850.6" y1="1220.5" x2="1859.6" y2="1220.5" stroke="#222" stroke-width="1.2"/>
<text x="1849" y="1226.9" text-anchor="end" font-size="13.6" fill="#111" textLength="30.6" lengthAdjust="spacingAndGlyphs">.4000</text>
<line x1="1850.6" y1="1338.8" x2="1859.6" y2="1338.8" stroke="#222" stroke-width="1.2"/>
<text x="1849" y="1345.2" text-anchor="end" font-size="13.6" fill="#111" textLength="30.6" lengthAdjust="spacingAndGlyphs">.2000</text>
<line x1="1850.6" y1="1457.9" x2="1859.6" y2="1457.9" stroke="#222" stroke-width="1.2"/>
<text x="1849" y="1464.3" text-anchor="end" font-size="13.6" fill="#111" textLength="30.6" lengthAdjust="spacingAndGlyphs">.0000</text>
<line x1="1991.2" y1="1457.9" x2="1991.2" y2="1466" stroke="#222" stroke-width="1.4"/>
<text x="1991.2" y="1484.7" text-anchor="middle" font-size="17.6" fill="#222">Paroxsymal</text>
<line x1="2188.8" y1="1457.9" x2="2188.8" y2="1466" stroke="#222" stroke-width="1.4"/>
<text x="2188.8" y="1484.7" text-anchor="middle" font-size="17.6" fill="#222">Persistent</text>
<line x1="2386.9" y1="1457.9" x2="2386.9" y2="1466" stroke="#222" stroke-width="1.4"/>
<text x="2386.9" y="1484.7" text-anchor="middle" font-size="17.6" fill="#222">Permanent</text>
<text x="2146.5" y="1513.7" text-anchor="middle" font-weight="bold" font-size="17.8" textLength="258" lengthAdjust="spacingAndGlyphs">Atrial Fibrillation Classification</text>
<text transform="translate(1803.3,1194.7) rotate(-90)" text-anchor="middle" font-weight="bold" font-size="17.8" textLength="145.5" lengthAdjust="spacingAndGlyphs">Ejection Fraction</text>
<line x1="1991.15" y1="1042.5" x2="1991.15" y2="1214.7" stroke="#111" stroke-width="1.6"/>
<line x1="1979.6" y1="1042.5" x2="2003.2" y2="1042.5" stroke="#111" stroke-width="1.6"/>
<line x1="1979.6" y1="1214.7" x2="2003.2" y2="1214.7" stroke="#111" stroke-width="1.6"/>
<rect x="1966.6" y="1089.8" width="49.1" height="59.4" fill="#C7C154" stroke="#555" stroke-width="1.2"/>
<line x1="1966.6" y1="1105" x2="2015.7" y2="1105" stroke="#111" stroke-width="2.6"/>
<line x1="2189.25" y1="1007.3" x2="2189.25" y2="1131.3" stroke="#111" stroke-width="1.6"/>
<line x1="2177.2" y1="1007.3" x2="2200.8" y2="1007.3" stroke="#111" stroke-width="1.6"/>
<line x1="2177.2" y1="1131.3" x2="2200.8" y2="1131.3" stroke="#111" stroke-width="1.6"/>
<rect x="2164.7" y="1051.5" width="49.1" height="62" fill="#7354C1" stroke="#555" stroke-width="1.2"/>
<line x1="2164.7" y1="1084" x2="2213.8" y2="1084" stroke="#111" stroke-width="2.6"/>
<line x1="2387.35" y1="1036.7" x2="2387.35" y2="1250" stroke="#111" stroke-width="1.6"/>
<line x1="2374.8" y1="1036.7" x2="2398.5" y2="1036.7" stroke="#111" stroke-width="1.6"/>
<line x1="2374.8" y1="1250" x2="2398.5" y2="1250" stroke="#111" stroke-width="1.6"/>
<rect x="2362.8" y="1066.6" width="49.1" height="91.5" fill="#E44747" stroke="#555" stroke-width="1.2"/>
<line x1="2362.8" y1="1110.8" x2="2411.9" y2="1110.8" stroke="#111" stroke-width="2.6"/>
<circle cx="1991.2" cy="1285.7" r="3.6" fill="#E8F2F6" stroke="#222" stroke-width="1.4"/>
<text x="1996.5" y="1277.8" font-size="11.5" fill="#222">24</text>
</svg>
<svg style="left:1767px;top:1597px" width="760" height="656" viewBox="1767 1597 760 656" font-family="Liberation Sans, sans-serif">
<text x="2146" y="1649.2" text-anchor="middle" font-weight="bold" font-size="20.5" textLength="682" lengthAdjust="spacingAndGlyphs">Figure 2. Blood adiponectin concentrations in non-MetS and MetS patients</text>
<rect x="1870.5" y="1662" width="646.3" height="516.6" fill="#D7EAF3" stroke="#555" stroke-width="1.3"/>
<path d="M1870.5,1662 V2178.6 H2516.8" fill="none" stroke="#000" stroke-width="1.3"/>
<line x1="1862.5" y1="1714.7" x2="1870.5" y2="1714.7" stroke="#222" stroke-width="1.2"/>
<text x="1861" y="1721.4" text-anchor="end" font-size="12.6" fill="#111">50.0000</text>
<line x1="1862.5" y1="1807.5" x2="1870.5" y2="1807.5" stroke="#222" stroke-width="1.2"/>
<text x="1861" y="1814.2" text-anchor="end" font-size="12.6" fill="#111">40.0000</text>
<line x1="1862.5" y1="1900.4" x2="1870.5" y2="1900.4" stroke="#222" stroke-width="1.2"/>
<text x="1861" y="1907.1" text-anchor="end" font-size="12.6" fill="#111">30.0000</text>
<line x1="1862.5" y1="1993.3" x2="1870.5" y2="1993.3" stroke="#222" stroke-width="1.2"/>
<text x="1861" y="2000" text-anchor="end" font-size="12.6" fill="#111">20.0000</text>
<line x1="1862.5" y1="2086.1" x2="1870.5" y2="2086.1" stroke="#222" stroke-width="1.2"/>
<text x="1861" y="2092.8" text-anchor="end" font-size="12.6" fill="#111">10.0000</text>
<line x1="1862.5" y1="2178.6" x2="1870.5" y2="2178.6" stroke="#222" stroke-width="1.2"/>
<text x="1861" y="2185.3" text-anchor="end" font-size="12.6" fill="#111">.0000</text>
<line x1="2048.1" y1="2178.6" x2="2048.1" y2="2187" stroke="#222" stroke-width="1.4"/>
<text x="2048.1" y="2201.3" text-anchor="middle" font-size="13.6" fill="#151515" textLength="104.5" lengthAdjust="spacingAndGlyphs">Non MetS Patients</text>
<line x1="2339.2" y1="2178.6" x2="2339.2" y2="2187" stroke="#222" stroke-width="1.4"/>
<text x="2339.2" y="2201.3" text-anchor="middle" font-size="13.6" fill="#151515" textLength="78.7" lengthAdjust="spacingAndGlyphs">MetS Patients</text>
<text x="2194.3" y="2230.4" text-anchor="middle" font-weight="bold" font-size="17.6" textLength="232.5" lengthAdjust="spacingAndGlyphs">Metabolic Syndrome Status</text>
<text transform="translate(1800,1921.4) rotate(-90)" text-anchor="middle" font-weight="bold" font-size="17.6" textLength="352" lengthAdjust="spacingAndGlyphs">Blood Adiponectin Concentration (ng/mL)</text>
<line x1="2048.75" y1="1787.8" x2="2048.75" y2="1960.3" stroke="#111" stroke-width="1.6"/>
<line x1="2031" y1="1787.8" x2="2066.1" y2="1787.8" stroke="#111" stroke-width="1.6"/>
<line x1="2031" y1="1960.3" x2="2066.1" y2="1960.3" stroke="#111" stroke-width="1.6"/>
<rect x="2012.6" y="1806.2" width="72.3" height="145.6" fill="#3F48EE" stroke="#777" stroke-width="1.2"/>
<line x1="2012.6" y1="1885" x2="2084.9" y2="1885" stroke="#111" stroke-width="2.2"/>
<line x1="2339.6" y1="1954.3" x2="2339.6" y2="2134.9" stroke="#111" stroke-width="1.6"/>
<line x1="2321.2" y1="1954.3" x2="2356.3" y2="1954.3" stroke="#111" stroke-width="1.6"/>
<line x1="2321.2" y1="2134.9" x2="2356.3" y2="2134.9" stroke="#111" stroke-width="1.6"/>
<rect x="2303.2" y="1986.8" width="72.8" height="97.2" fill="#EE3F42" stroke="#777" stroke-width="1.2"/>
<line x1="2303.2" y1="2060.5" x2="2376" y2="2060.5" stroke="#111" stroke-width="2.2"/>
</svg>
<svg style="left:2589px;top:2316px" width="288" height="163" viewBox="2589 2316 288 163" font-family="Liberation Sans, sans-serif">
<defs>
<linearGradient id="fhg" x1="0" y1="1" x2="1" y2="0"><stop offset="0" stop-color="#C42822"/><stop offset="0.45" stop-color="#DB4641"/><stop offset="1" stop-color="#E4554F"/></linearGradient>
<clipPath id="hc"><path d="M2647.5,2470.5 C2630,2455 2603,2428 2602.5,2404 C2602,2388 2615,2381.5 2627,2381.8 C2638,2382.2 2645,2389 2647.5,2396 C2650,2389 2658,2382.2 2669,2381.8 C2681,2381.5 2693,2389 2692.6,2404 C2692,2428 2665,2455 2647.5,2470.5 Z"/></clipPath>
</defs>
<rect x="2589" y="2316" width="288" height="163" fill="url(#fhg)"/>
<g fill="#FBE9E6">
<rect x="2662.5" y="2325" width="200.3" height="2.2"/>
<rect x="2662.5" y="2372.8" width="200.3" height="2.2"/>
<rect x="2694.3" y="2423" width="168.5" height="2.2"/>
<rect x="2664" y="2474" width="198.8" height="2.2"/>
</g>
<g fill="#FBEDEA" font-size="48.5">
<text x="2662" y="2367.3" textLength="200.5" lengthAdjust="spacingAndGlyphs">FLORIDA</text>
<text x="2712" y="2416.6" textLength="141.5" lengthAdjust="spacingAndGlyphs">HEART</text>
<text x="2689" y="2468.6" textLength="173.5" lengthAdjust="spacingAndGlyphs">GROUP</text>
</g>
<path transform="translate(2.5,3)" fill="#8E1F1B" opacity="0.45" d="M2647.5,2470.5 C2630,2455 2603,2428 2602.5,2404 C2602,2388 2615,2381.5 2627,2381.8 C2638,2382.2 2645,2389 2647.5,2396 C2650,2389 2658,2382.2 2669,2381.8 C2681,2381.5 2693,2389 2692.6,2404 C2692,2428 2665,2455 2647.5,2470.5 Z"/>
<path fill="#F24E66" d="M2647.5,2470.5 C2630,2455 2603,2428 2602.5,2404 C2602,2388 2615,2381.5 2627,2381.8 C2638,2382.2 2645,2389 2647.5,2396 C2650,2389 2658,2382.2 2669,2381.8 C2681,2381.5 2693,2389 2692.6,2404 C2692,2428 2665,2455 2647.5,2470.5 Z"/>
<g clip-path="url(#hc)" stroke="#FBE3E2" stroke-width="1.5" fill="none">
<line x1="2625.5" y1="2375" x2="2625.5" y2="2475"/><line x1="2648" y1="2375" x2="2648" y2="2475"/><line x1="2670.5" y1="2375" x2="2670.5" y2="2475"/>
<line x1="2598" y1="2402" x2="2698" y2="2402"/><line x1="2598" y1="2427" x2="2698" y2="2427"/><line x1="2598" y1="2451" x2="2698" y2="2451"/>
</g>
<path fill="none" stroke="#FBE3E2" stroke-width="1.8" d="M2647.5,2470.5 C2630,2455 2603,2428 2602.5,2404 C2602,2388 2615,2381.5 2627,2381.8 C2638,2382.2 2645,2389 2647.5,2396 C2650,2389 2658,2382.2 2669,2381.8 C2681,2381.5 2693,2389 2692.6,2404 C2692,2428 2665,2455 2647.5,2470.5 Z"/>
</svg>
<div style="left:2900px;top:2316px;width:532px;height:163px;background:#fff"></div>
<svg style="left:2900px;top:2310px" width="540" height="175" viewBox="2900 2310 540 175" font-family="Liberation Serif, serif">
<defs>
<linearGradient id="ab" x1="0" y1="0" x2="1" y2="0"><stop offset="0" stop-color="#5E8FB8" stop-opacity="0.2"/><stop offset="0.35" stop-color="#2F6EA6"/><stop offset="1" stop-color="#1E4F86"/></linearGradient>
<linearGradient id="ay" x1="0" y1="0" x2="1" y2="0"><stop offset="0" stop-color="#D6DC7A" stop-opacity="0.15"/><stop offset="0.4" stop-color="#D2D95E"/><stop offset="1" stop-color="#C8CE3C"/></linearGradient>
</defs>
<path fill="url(#ay)" d="M3057,2361 C3095,2337 3150,2323 3205,2322 C3250,2322 3285,2336 3287,2350 C3288,2356 3284,2361 3279,2364 C3284,2357 3284,2350 3276,2343 C3262,2331 3230,2326 3200,2327 C3150,2329 3100,2341 3057,2361 Z"/>
<path fill="url(#ab)" d="M3068,2339 C3100,2323 3140,2316 3172,2316 C3215,2317 3250,2329 3262,2345 C3268,2353 3266,2361 3258,2367 C3264,2358 3263,2351 3256,2344 C3240,2329 3205,2321 3170,2321 C3135,2321 3100,2328 3068,2339 Z"/>
<g fill="#2C5D8C">
<text x="2927" y="2403.6" font-size="25.2" textLength="472" lengthAdjust="spacingAndGlyphs"><tspan font-size="36.5">T</tspan>RANSLATIONAL <tspan font-size="36.5">R</tspan>ESEARCH <tspan font-size="36.5">I</tspan>NSTITUTE</text>
<text x="2989" y="2436.4" font-size="19.2" textLength="348" lengthAdjust="spacingAndGlyphs">FOR <tspan font-size="30">M</tspan>ETABOLISM AND <tspan font-size="30">D</tspan>IABETES</text>
</g>
<rect x="2925.8" y="2445" width="472.2" height="1.8" fill="#6F6A66"/>
<text x="2927" y="2465.8" font-size="17.2" fill="#566B7B" stroke="#566B7B" stroke-width="0.35" textLength="471.5" lengthAdjust="spacing">FLORIDA HOSPITAL &#8226; SANFORD&#8201;|&#8201;BURNHAM INSTITUTE</text>
</svg>
</div></body></html>
